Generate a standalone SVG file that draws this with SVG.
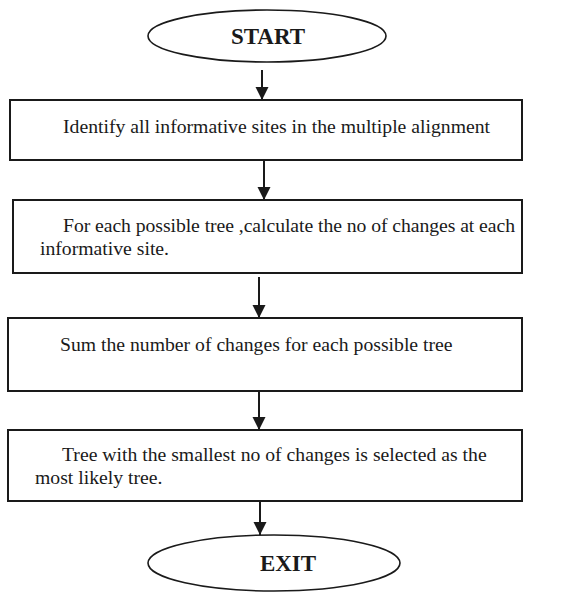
<svg xmlns="http://www.w3.org/2000/svg" width="572" height="592" viewBox="0 0 572 592">
<style>
  .box { fill: #ffffff; stroke: #1a1a1a; stroke-width: 2; }
  .oval { fill: #ffffff; stroke: #1a1a1a; stroke-width: 1.6; }
  .txt { font-family: "Liberation Serif", "Times New Roman", serif; font-size: 19.7px; fill: #1a1a1a; }
  .term { font-family: "Liberation Serif", "Times New Roman", serif; font-size: 23px; font-weight: bold; fill: #1a1a1a; text-anchor: middle; }
  .conn { stroke: #1a1a1a; stroke-width: 2; fill: none; marker-end: url(#arrow); }
</style>
<defs>
  <marker id="arrow" markerUnits="userSpaceOnUse" markerWidth="14" markerHeight="14" refX="13" refY="7" orient="auto">
    <path d="M0,0.5 L13,7 L0,13.5 Z" fill="#1a1a1a"/>
  </marker>
</defs>
<rect width="572" height="592" fill="#ffffff"/>
<g id="connectors">
  <line class="conn" x1="262" y1="70" x2="262" y2="100"/>
  <line class="conn" x1="264" y1="161" x2="264" y2="200"/>
  <line class="conn" x1="259" y1="277" x2="259" y2="318"/>
  <line class="conn" x1="259" y1="392" x2="259" y2="430"/>
  <line class="conn" x1="260" y1="502" x2="260" y2="535"/>
</g>
<g id="start">
  <ellipse class="oval" cx="267" cy="36" rx="119" ry="26"/>
  <text class="term" x="268" y="44">START</text>
</g>
<g id="step1">
  <rect class="box" x="10" y="100" width="512" height="60"/>
  <text class="txt" x="63" y="133">Identify all informative sites in the multiple alignment</text>
</g>
<g id="step2">
  <rect class="box" x="13" y="200" width="509" height="73"/>
  <text class="txt" x="63" y="232" textLength="452" lengthAdjust="spacing">For each possible tree ,calculate the no of changes at each</text>
  <text class="txt" x="40" y="255">informative site.</text>
</g>
<g id="step3">
  <rect class="box" x="8" y="318" width="514" height="73"/>
  <text class="txt" x="60" y="351">Sum the number of changes for each possible tree</text>
</g>
<g id="step4">
  <rect class="box" x="8" y="430" width="514" height="71"/>
  <text class="txt" x="62" y="461">Tree with the smallest no of changes is selected as the</text>
  <text class="txt" x="35" y="484">most likely tree.</text>
</g>
<g id="exit">
  <ellipse class="oval" cx="274" cy="563" rx="126" ry="28"/>
  <text class="term" x="288" y="571">EXIT</text>
</g>
</svg>
